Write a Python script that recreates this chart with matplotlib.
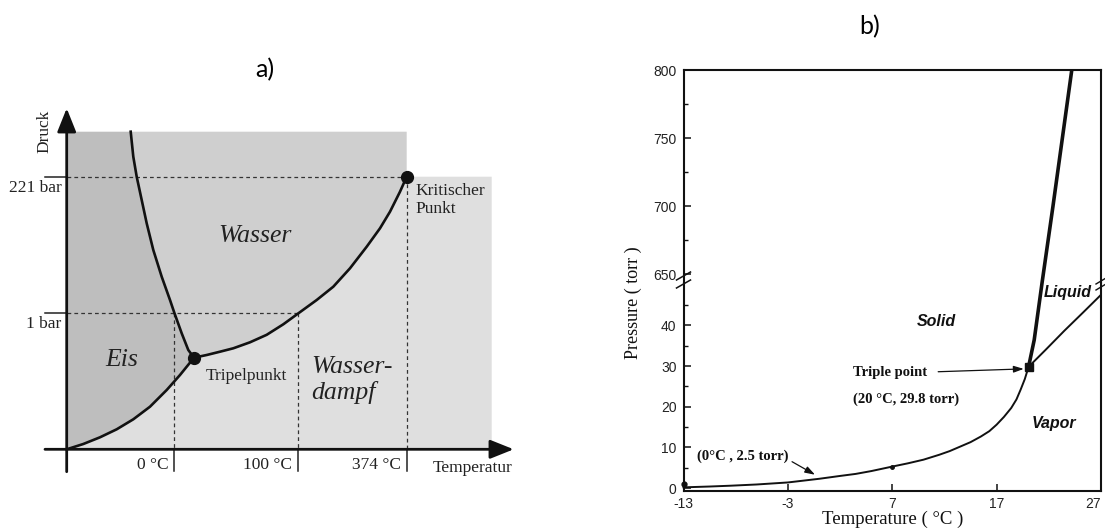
import matplotlib
matplotlib.use("Agg")
import matplotlib.pyplot as plt
from matplotlib.lines import Line2D

plt.rcParams['axes.unicode_minus'] = False
SERIF = 'Liberation Serif'
SANS = 'Liberation Sans'

# ---- panel a: schematic water phase diagram (schematic units, origin at axes cross) ----
melt_x = [64, 66.6, 70, 75, 80, 86.6, 95, 103.3, 107.6, 115, 121.6, 127.3]
melt_y = [317.6, 292.6, 272.6, 249.3, 226, 199.3, 172.6, 149.3, 136.6, 116, 99.3, 91.6]
subl_x = [0, 16.6, 33.3, 50, 66.6, 83.3, 100, 113.3, 127.3]
subl_y = [0, 5.3, 12, 20, 30, 42.6, 59.3, 74.3, 91.6]
vap_x = [127.3, 140, 153.3, 166.6, 183.3, 200, 216.6, 231, 250, 266.6, 283.3, 300,
         313.3, 323.3, 333.3, 340]
vap_y = [91.6, 94.3, 97.6, 101, 107, 114.5, 125, 135.5, 149.3, 162.6, 181, 202.6,
         221, 237.6, 257.6, 272.6]
top_a = 317.6
right_a = 425
crit_a = (340, 272.6)
triple_a = (127.3, 91.6)
p_levels = [272.6, 136.6]
p_labels = ['221 bar', '1 bar']
t_marks = [107.6, 231, 340]
t_labels = ['0 °C', '100 °C', '374 °C']

# ---- panel b: measured phase diagram (temperature in °C, pressure in torr) ----
sub_T = [-13, -10.5, -8.5, -6, -3, 0, 2, 3.5, 5, 7, 8.5, 10, 11.5, 12.5, 13.5, 14.5,
         15.5, 16.3, 17, 17.7, 18.4, 18.9, 19.3, 19.7, 20.06]
sub_P = [0.2, 0.4, 0.6, 0.9, 1.4, 2.3, 3.0, 3.5, 4.2, 5.3, 6.1, 7.0, 8.2, 9.1, 10.2, 11.3,
         12.7, 14.0, 15.6, 17.5, 19.7, 21.8, 24.2, 26.8, 29.8]
liq_T = [20.06, 21.7, 23.5, 25.3, 27]
liq_P = [29.8, 34.0, 38.7, 43.2, 47.5]
melt_lo_T = [20.06, 20.6, 21.35]
melt_lo_P = [29.8, 36.4, 50.4]
melt_hi_T = [21.35, 22.4, 23.3, 24.2]
melt_hi_P = [643.5, 700, 750, 800]
t_ticks = [-13, -3, 7, 17, 27]
p_lo_ticks = [0, 10, 20, 30, 40]
p_hi_ticks = [650, 700, 750, 800]

W, H = 1105, 530
fig = plt.figure(figsize=(W / 100, H / 100), dpi=100)

# ======================= panel a =======================
ax = fig.add_axes([0, 0, 560 / W, 1])
ax.set_xlim(-66.7, 493.3)
ax.set_ylim(-80.7, 449.3)
ax.axis('off')

ax.fill([0] + melt_x + subl_x[::-1], [top_a] + melt_y + subl_y[::-1],
        color='#bebebe', lw=0, zorder=1)
ax.fill(melt_x + vap_x + [crit_a[0]], melt_y + vap_y + [top_a],
        color='#cfcfcf', lw=0, zorder=1)
ax.fill(subl_x + vap_x + [right_a, right_a], subl_y + vap_y + [crit_a[1], 0],
        color='#dfdfdf', lw=0, zorder=1)

dash = dict(color='#333333', lw=0.9, ls=(0, (3, 2.5)), zorder=2)
ax.plot([0, crit_a[0]], [p_levels[0]] * 2, **dash)
ax.plot([0, t_marks[1]], [p_levels[1]] * 2, **dash)
ax.plot([t_marks[0]] * 2, [p_levels[1], 0], **dash)
ax.plot([t_marks[1]] * 2, [p_levels[1], 0], **dash)
ax.plot([t_marks[2]] * 2, [p_levels[0], 0], **dash)

for y in p_levels:
    ax.plot([-22, 0], [y, y], color='#222222', lw=1.1, zorder=3)
for x in t_marks:
    ax.plot([x, x], [0, -22], color='#222222', lw=1.1, zorder=3)

ax.plot(melt_x, melt_y, color='#111111', lw=1.9, zorder=4)
ax.plot(subl_x, subl_y, color='#111111', lw=1.9, zorder=4)
ax.plot(vap_x, vap_y, color='#111111', lw=1.9, zorder=4)
ax.plot(*triple_a, 'o', color='#111111', ms=8.5, zorder=5)
ax.plot(*crit_a, 'o', color='#111111', ms=8.5, zorder=5)

arr = dict(arrowstyle='-|>,head_length=0.8,head_width=0.32', mutation_scale=18,
           lw=2.0, color='#111111', shrinkA=0, shrinkB=0)
ax.annotate('', xy=(0, 341), xytext=(0, -22.4), arrowprops=arr, zorder=6)
ax.annotate('', xy=(447, 0), xytext=(-21.7, 0), arrowprops=arr, zorder=6)

tk = dict(family=SERIF, size=12.5, color='#222222')
for y, lab in zip(p_levels, p_labels):
    ax.text(-5, y - 11, lab, ha='right', va='center', **tk)
for x, lab in zip(t_marks, t_labels):
    ax.text(x - 6, -16, lab, ha='right', va='center', **tk)
ax.text(406, -19, 'Temperatur', ha='center', va='center', **tk)
ax.text(-22, 318, 'Druck', ha='center', va='center', rotation=90, **tk)
ax.text(349, 266, 'Kritischer\nPunkt', ha='left', va='top', linespacing=1.15, **tk)
ax.text(180, 73, 'Tripelpunkt', ha='center', va='center', **tk)

big = dict(family=SERIF, size=18.5, style='italic', color='#222222')
ax.text(188, 213, 'Wasser', ha='center', va='center', **big)
ax.text(55, 89, 'Eis', ha='center', va='center', **big)
ax.text(245, 69, 'Wasser-\ndampf', ha='left', va='center', linespacing=1.15, **big)

fig.text(265 / W, 1 - 70 / H, 'a)', family='Lato', size=18, ha='center', va='center')
fig.text(870 / W, 1 - 27 / H, 'b)', family='Lato', size=18, ha='center', va='center')

# ======================= panel b =======================
x0, x1 = 683.5, 1101
ax_hi = fig.add_axes([x0 / W, (H - 283) / H, (x1 - x0) / W, (283 - 70) / H])
ax_lo = fig.add_axes([x0 / W, (H - 491) / H, (x1 - x0) / W, (491 - 283) / H])

for a in (ax_hi, ax_lo):
    a.set_xlim(-13, 27)
    for s in a.spines.values():
        s.set_linewidth(1.5)
        s.set_color('#111111')
    a.tick_params(which='both', direction='in', colors='#111111', right=False, top=False)
    a.tick_params(which='major', length=5, width=1.1, pad=4)
    a.tick_params(which='minor', length=3, width=1.0)
    a.tick_params(axis='y', which='major', pad=5)
ax_hi.spines['bottom'].set_visible(False)
ax_lo.spines['top'].set_visible(False)

ax_hi.set_ylim(643.5, 800)
ax_hi.set_yticks(p_hi_ticks)
ax_hi.set_yticks([675, 725, 775], minor=True)
ax_hi.set_xticks([])
ax_lo.set_ylim(-0.7, 50.4)
ax_lo.set_yticks(p_lo_ticks)
ax_lo.set_yticks([5, 15, 25, 35, 45], minor=True)
ax_lo.set_xticks(t_ticks)
for a in (ax_hi, ax_lo):
    for lab in a.get_xticklabels() + a.get_yticklabels():
        lab.set_family(SANS)
        lab.set_fontsize(10)
        lab.set_color('#222222')
ax_lo.get_xticklabels()[-1].set_horizontalalignment('right')

ax_lo.plot(sub_T, sub_P, color='#111111', lw=1.4, clip_on=False, zorder=3)
ax_lo.plot(liq_T, liq_P, color='#111111', lw=1.4, zorder=3)
ax_lo.plot(melt_lo_T, melt_lo_P, color='#111111', lw=2.6, zorder=3)
ax_hi.plot(melt_hi_T, melt_hi_P, color='#111111', lw=2.6, zorder=3)
ax_lo.plot(sub_T[-1], sub_P[-1], 's', color='#111111', ms=5.5, zorder=4)
ax_lo.plot(sub_T[9], sub_P[9], 'o', color='#111111', ms=2.5, zorder=4)
ax_lo.plot(sub_T[0], 1.0, 'o', color='#111111', ms=3.5, clip_on=False, zorder=4)

ph = dict(family=SANS, size=11.5, weight='bold', style='italic', color='#111111')
ax_lo.text(11.2, 40.9, 'Solid', ha='center', va='center', **ph)
ax_lo.text(23.8, 48.1, 'Liquid', ha='center', va='center', **ph)
ax_lo.text(22.5, 15.8, 'Vapor', ha='center', va='center', **ph)

an = dict(family=SERIF, size=10.5, weight='bold', color='#111111')
ax_lo.text(3.25, 28.5, 'Triple point', ha='left', va='center', **an)
ax_lo.text(3.25, 21.9, '(20 °C, 29.8 torr)', ha='left', va='center', **an)
ax_lo.text(-11.7, 7.9, '(0°C , 2.5 torr)', ha='left', va='center', **an)
sm = dict(arrowstyle='-|>,head_length=0.6,head_width=0.2', mutation_scale=10,
          lw=0.9, color='#111111', shrinkA=0, shrinkB=0)
ax_lo.annotate('', xy=(19.6, 29.3), xytext=(11.4, 28.6), arrowprops=sm)
ax_lo.annotate('', xy=(-0.4, 3.3), xytext=(-2.6, 6.5), arrowprops=sm)

# axis break marks
hl, hh = 417.5, 208.0
for yc in (7, -1):
    ax_lo.add_line(Line2D([-7 / hl, 7 / hl], [1 + (yc - 4) / hh, 1 + (yc + 4) / hh],
                          transform=ax_lo.transAxes, color='#111111', lw=1.1, clip_on=False))
for yc in (2, -4):
    ax_lo.add_line(Line2D([1 - 5 / hl, 1 + 5 / hl], [1 + (yc - 3) / hh, 1 + (yc + 3) / hh],
                          transform=ax_lo.transAxes, color='#111111', lw=1.0, clip_on=False))

fig.text(633 / W, 1 - 303 / H, 'Pressure ( torr )', family=SERIF, size=13,
         rotation=90, ha='center', va='center', color='#111111')
fig.text(893 / W, 1 - 519 / H, 'Temperature ( °C )', family=SERIF, size=13.5,
         ha='center', va='center', color='#111111')

fig.savefig('out.png', dpi=100)
